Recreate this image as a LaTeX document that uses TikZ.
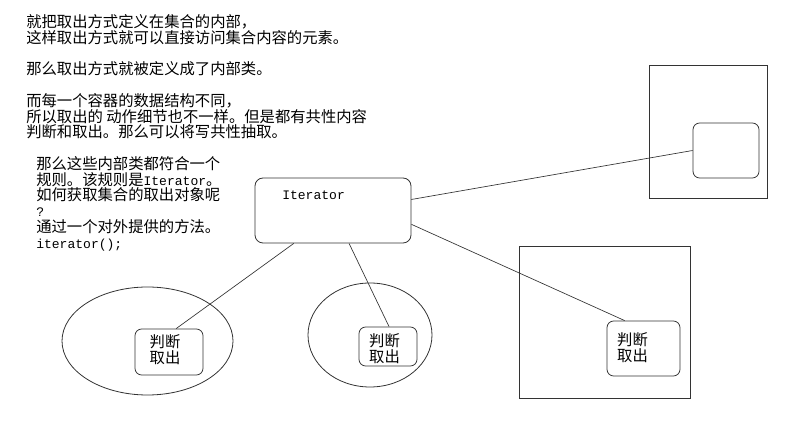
\documentclass[tikz,border=0pt]{standalone}
\usepackage{fontspec}
\setmainfont{Noto Sans CJK SC}
\setmonofont{Liberation Mono}[Scale=0.85]
\usepackage{tikz}
\usetikzlibrary{shapes.geometric}
\definecolor{inkgrey}{rgb}{0.2, 0.2, 0.2}
\tikzset{
    plain/.style={draw=inkgrey,line width=0.6pt,inner sep=0pt},
    rbox/.style={plain,rounded corners=5pt},
    oval/.style={plain,ellipse},
    link/.style={draw=inkgrey,line width=0.5pt},
    txt/.style={inner sep=0pt,align=left,font=\fontsize{11.5pt}{11.85pt}\selectfont}
}

\begin{document}
\begin{tikzpicture}[x=0.75pt,y=-0.75pt]
    \useasboundingbox (0,0) rectangle (800,427);
    \node[txt,anchor=north west] (intro) at (26,14) {就把取出方式定义在集合的内部，\\这样取出方式就可以直接访问集合内容的元素。\\[11.85pt]那么取出方式就被定义成了内部类。\\[11.85pt]而每一个容器的数据结构不同，\\所以取出的 动作细节也不一样。但是都有共性内容\\判断和取出。那么可以将写共性抽取。};
    \node[txt,anchor=north west] (rule) at (36,156) {那么这些内部类都符合一个\\规则。该规则是\texttt{Iterator}。\\如何获取集合的取出对象呢\\\texttt{?}\\通过一个对外提供的方法。\\\texttt{iterator();}};

    \node[rbox,rounded corners=6pt,minimum width=0.75pt*156,minimum height=0.75pt*65] (it) at (333,210.5) {};
    \node[txt,anchor=west] (itname) at (282,195) {\texttt{Iterator}};

    \node[plain,minimum width=0.75pt*118,minimum height=0.75pt*133] (sq1) at (708,131.5) {};
    \node[rbox,minimum width=0.75pt*66,minimum height=0.75pt*55] (inner) at (726,150.5) {};
    \node[plain,minimum width=0.75pt*171,minimum height=0.75pt*152] (sq2) at (604.5,322) {};

    \node[oval,minimum width=0.75pt*171,minimum height=0.75pt*108] (ov1) at (147.5,341) {};
    \node[oval,minimum width=0.75pt*124,minimum height=0.75pt*104] (ov2) at (370,335) {};

    \node[rbox,minimum width=0.75pt*68,minimum height=0.75pt*46] (pick1) at (169,352) {};
    \node[rbox,minimum width=0.75pt*58,minimum height=0.75pt*39] (pick2) at (388,346.5) {};
    \node[rbox,minimum width=0.75pt*73,minimum height=0.75pt*55] (pick3) at (643.5,348.5) {};
    \node[txt] (pt1) at (165,349.5) {判断\\取出};
    \node[txt] (pt2) at (384.5,349) {判断\\取出};
    \node[txt] (pt3) at (632.5,347.5) {判断\\取出};

    \draw[link] (it.8) -- (inner.west);
    \draw[link] (it.-10) -- (pick3.124);
    \draw[link] (it.220) -- (pick1.73);
    \draw[link] (it.-64) -- (pick2.87);
\end{tikzpicture}
\end{document}
